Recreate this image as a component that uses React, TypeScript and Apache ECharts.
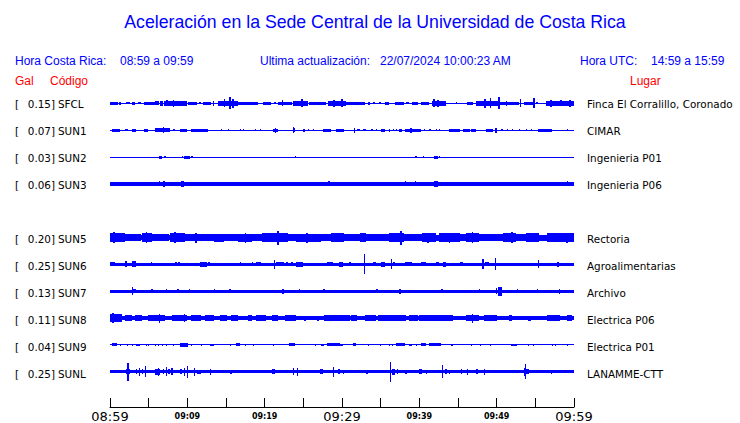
import React, { useEffect, useRef } from "react";
import * as echarts from "echarts";

const TITLE = "Aceleración en la Sede Central de la Universidad de Costa Rica";
const HEAD_CR_LABEL = "Hora Costa Rica:";
const HEAD_CR_VALUE = "08:59 a 09:59";
const HEAD_UPD_LABEL = "Ultima actualización:";
const HEAD_UPD_VALUE = "22/07/2024 10:00:23 AM";
const HEAD_UTC_LABEL = "Hora UTC:";
const HEAD_UTC_VALUE = "14:59 a 15:59";
const COL_GAL = "Gal";
const COL_CODE = "Código";
const COL_PLACE = "Lugar";

const CODES = ["SFCL", "SUN1", "SUN2", "SUN3", "SUN5", "SUN6", "SUN7", "SUN8", "SUN9", "SUNL"];
const PEAKS = ["0.15", "0.07", "0.03", "0.06", "0.20", "0.25", "0.13", "0.11", "0.04", "0.25"];
const PLACES = [
  "Finca El Corralillo, Coronado",
  "CIMAR",
  "Ingenieria P01",
  "Ingenieria P06",
  "Rectoria",
  "Agroalimentarias",
  "Archivo",
  "Electrica P06",
  "Electrica P01",
  "LANAMME-CTT",
];
// row slot of each station (slot 4 = SUN4, no data)
const ROWS = [0, 1, 2, 3, 5, 6, 7, 8, 9, 10];
// baseline half-amplitude of each trace
const BASE = [0.6, 0.6, 0.5, 1.7, 2.3, 1.3, 1.3, 1.8, 0.6, 1.7];

// bursts: [start minute, end minute, half amplitude]
const SFCL = [
  [0, 1.0, 1.5], [1.2, 1.4, 1.5], [2.1, 2.6, 1], [2.8, 3.2, 1.5], [3.6, 4.0, 1], [4.4, 5.8, 1.5], [5.8, 6.4, 2],
  [6.5, 6.8, 2.5], [7.0, 10.0, 2.2], [7.3, 7.5, 3], [8.1, 8.3, 3.5], [9.2, 9.4, 2.5], [10.1, 11.2, 1.5],
  [11.5, 11.8, 1], [12.0, 13.0, 1.5], [13.3, 13.5, 2.5], [14.0, 16.5, 2.5], [14.7, 14.9, 4], [15.4, 15.6, 6],
  [15.8, 16.0, 4.5], [16.5, 19.2, 1.5], [19.8, 20.8, 1.5], [21.2, 21.5, 1], [21.7, 23.5, 1.8], [22.2, 22.4, 3],
  [23.6, 25.6, 2.3], [24.7, 24.9, 4], [25.7, 27.9, 1.5], [28.2, 30.5, 2.5], [28.9, 29.1, 3.5], [29.9, 30.1, 4],
  [30.5, 33.0, 1.8], [33.3, 33.6, 1.5], [34.0, 34.3, 1], [34.8, 35.1, 1], [35.6, 36.1, 1.5], [36.9, 38.0, 1.5],
  [38.3, 38.6, 1], [39.0, 39.8, 1.5], [40.2, 41.3, 1.5], [41.7, 43.4, 2.3], [41.8, 42.0, 4], [42.3, 42.5, 3.5],
  [44.7, 44.8, 1], [46.2, 46.9, 1.5], [47.3, 50.4, 2.8], [48.4, 48.6, 4.5], [49.1, 49.3, 5], [50.2, 50.4, 6],
  [50.4, 52.9, 1.6], [51.2, 51.4, 2.2], [53.0, 53.2, 4], [53.5, 54.8, 1.8], [54.7, 54.9, 5], [55.1, 55.4, 1],
  [56.4, 60, 2.3], [56.9, 57.1, 3.5], [58.2, 58.4, 3], [59.4, 59.6, 3.5],
];
const SUN1 = [
  [0.2, 1.3, 1.5], [2.0, 2.3, 1], [2.8, 3.4, 1.5], [4.4, 4.9, 1.5], [5.8, 7.7, 1.8], [6.8, 7.0, 3], [8.2, 8.4, 1],
  [9.0, 9.9, 1.5], [10.5, 12.7, 1.5], [14.3, 14.4, 1], [15.3, 15.4, 1], [16.8, 16.9, 1], [17.2, 17.3, 1],
  [18.7, 18.8, 1], [19.4, 19.5, 1], [21.1, 21.7, 1.5], [21.3, 21.5, 2.5], [23.6, 23.9, 2], [23.7, 23.8, 3],
  [24.9, 25.2, 1.5], [25.6, 25.7, 1], [26.2, 26.3, 1], [27.5, 28.6, 1.5], [29.2, 30.3, 1.5], [31.5, 31.7, 2.5],
  [32.0, 32.3, 1], [32.7, 33.1, 1.2], [33.8, 34.0, 1], [34.4, 34.5, 1], [35.1, 35.5, 1.5], [36.1, 36.2, 1.5],
  [36.6, 36.7, 1], [37.0, 37.1, 1], [37.4, 37.8, 1.5], [38.1, 40.2, 1.5], [38.8, 39.0, 2.5], [40.6, 40.7, 1],
  [41.3, 41.5, 1], [42.2, 42.3, 1], [42.6, 42.7, 1], [43.9, 45.2, 1.5], [45.6, 46.5, 1.5], [46.7, 47.3, 1.5],
  [48.6, 49.5, 1.5], [49.8, 50.0, 2.5], [50.5, 50.8, 1], [51.4, 51.5, 1], [52.0, 52.1, 1], [52.9, 53.0, 1],
  [53.8, 53.9, 1], [54.4, 54.5, 1], [55.3, 57.2, 1.5], [59.1, 59.2, 1],
];
const SUN2 = [
  [6.3, 6.7, 1.5], [7.0, 7.2, 1], [9.3, 9.5, 1], [9.6, 10.3, 1.5], [10.5, 10.7, 1], [23.9, 24.1, 1],
  [39.5, 39.7, 1.3], [40.5, 40.6, 1], [41.9, 42.4, 1.5], [42.6, 42.7, 1],
];
const SUN3 = [
  [6.4, 6.5, 2.5], [6.9, 7.1, 3], [9.2, 9.6, 3], [9.8, 9.9, 2.3], [28.2, 28.4, 2.5], [28.7, 28.8, 2.2],
  [38.1, 38.2, 2.5], [39.4, 39.5, 2.5], [40.5, 40.6, 2.2], [41.9, 42.4, 3], [59.1, 59.2, 2.5],
];
const SUN5 = [
  [0, 2.0, 4.3], [0.4, 0.6, 5.5], [2.0, 4.0, 3.2], [4.1, 5.4, 4.3], [4.6, 4.7, 5.5], [5.4, 7.6, 3.3],
  [7.7, 9.7, 4.3], [8.3, 8.5, 5.5], [9.7, 12.3, 3.8], [11.0, 11.2, 5], [12.3, 13.4, 3.2], [13.5, 14.8, 4],
  [14.8, 16.6, 3.3], [16.6, 18.3, 4], [17.4, 17.6, 5], [18.3, 19.6, 3.3], [19.6, 23.0, 4.2], [21.6, 21.8, 7],
  [23.0, 24.0, 3.3], [24.0, 27.3, 4], [25.4, 25.6, 5], [27.3, 28.6, 3.2], [28.6, 30.3, 4.2], [30.3, 32.3, 3.3],
  [32.3, 33.1, 4.3], [33.1, 36.1, 3.3], [36.1, 38.0, 4.5], [37.5, 37.7, 7], [38.0, 40.4, 3.3], [40.4, 42.2, 4.2],
  [41.0, 41.2, 5], [42.2, 42.6, 3], [42.6, 45.2, 4.2], [43.8, 44.0, 5], [45.2, 46.0, 3.2], [46.0, 47.7, 4.3],
  [46.8, 47.0, 5.5], [47.7, 50.8, 3.3], [50.8, 52.5, 4.3], [51.9, 52.1, 5.5], [52.5, 53.8, 3.3], [53.8, 55.5, 4.2],
  [55.5, 56.5, 3], [56.5, 60, 4.2], [59.0, 59.2, 5],
];
const SUN6 = [
  [0, 0.6, 2], [0.9, 1.6, 1.5], [1.8, 2.0, 1.5], [2.0, 2.2, 3], [2.9, 3.3, 3], [5.3, 5.4, 2], [6.2, 7.9, 1.8],
  [8.4, 8.6, 2], [8.8, 9.0, 2], [9.7, 11.0, 1.8], [11.7, 12.6, 2.5], [12.7, 12.9, 2], [14.5, 16.5, 1.7],
  [16.8, 17.0, 2], [17.2, 17.7, 1.8], [18.3, 18.5, 2], [18.9, 19.5, 2], [21.2, 21.4, 4.5], [21.5, 22.5, 2],
  [22.8, 23.0, 2], [23.4, 23.6, 2], [24.0, 25.0, 2.5], [25.2, 25.4, 1.8], [26.0, 27.5, 1.8], [28.0, 28.8, 2],
  [29.6, 30.1, 2.5], [30.9, 31.1, 2], [32.85, 33.0, 10], [34.0, 34.4, 2], [35.1, 35.5, 2.5], [36.35, 36.5, 5],
  [36.6, 36.9, 2], [38.1, 39.0, 2], [39.2, 39.8, 1.8], [40.2, 40.9, 2], [42.2, 42.6, 2], [43.0, 43.4, 2.5],
  [45.2, 45.7, 2], [48.15, 48.3, 5], [48.5, 49.0, 2], [49.75, 49.9, 6], [53.0, 54.8, 1.8], [55.35, 55.5, 4],
  [57.8, 58.0, 2.5],
];
const SUN7 = [
  [2.8, 3.0, 4], [3.0, 3.4, 2], [5.3, 5.5, 1.8], [7.2, 7.4, 2], [8.7, 8.9, 2], [10.2, 10.4, 1.8], [13.4, 13.6, 2],
  [15.4, 15.6, 1.8], [22.3, 22.5, 2.5], [24.4, 24.6, 2], [27.6, 27.8, 1.8], [34.4, 34.6, 2], [37.4, 37.6, 2.5],
  [39.6, 39.8, 1.7], [42.8, 43.0, 2], [47.7, 47.9, 2], [49.9, 50.1, 3], [50.2, 50.7, 4.5], [52.6, 52.8, 2],
  [55.2, 55.4, 1.8], [58.0, 58.2, 2.5],
];
const SUN8 = [
  [0, 1.5, 4], [0.3, 0.5, 4.7], [1.9, 2.8, 2.8], [3.2, 4.1, 2.8], [4.9, 6.2, 2.8], [6.2, 7.1, 3], [6.4, 6.5, 4.5],
  [8.0, 9.9, 3], [9.6, 9.7, 3.7], [10.5, 11.8, 2.7], [12.3, 13.5, 2.7], [14.2, 15.1, 2.7], [15.7, 16.6, 2.7],
  [17.8, 18.3, 2.7], [18.9, 20.2, 2.8], [20.9, 21.7, 2.7], [22.6, 24.1, 3.2], [25.1, 25.3, 2.5], [26.8, 27.0, 2.5],
  [27.7, 31.0, 2.8], [31.2, 32.0, 2.8], [33.0, 34.4, 2.7], [34.6, 38.3, 3], [38.7, 39.8, 2.7], [40.0, 44.4, 2.8],
  [46.0, 47.7, 3.2], [46.8, 47.0, 4.5], [48.4, 50.1, 2.8], [51.6, 52.0, 2.7], [54.0, 54.4, 2.5], [56.5, 58.2, 2.8],
  [59.1, 59.8, 2.7],
];
const SUN9 = [
  [0.2, 0.9, 1.5], [1.3, 1.4, 1.2], [2.2, 2.3, 1], [2.8, 3.0, 1.2], [3.4, 3.9, 1.3], [4.7, 4.8, 1], [4.9, 5.0, 1],
  [5.8, 5.9, 1], [6.2, 6.3, 1], [6.7, 6.9, 1.2], [7.3, 7.4, 1], [8.2, 8.3, 1], [9.0, 10.1, 1.7], [10.5, 10.6, 1],
  [11.8, 11.9, 1], [12.9, 13.5, 1.3], [15.5, 15.6, 1], [16.3, 16.8, 1.5], [17.4, 17.5, 1], [18.5, 18.6, 1],
  [21.1, 21.2, 1], [23.2, 23.9, 1.5], [26.5, 26.6, 1], [27.3, 27.7, 1.2], [28.0, 29.7, 1.5], [29.7, 30.1, 1.2],
  [31.4, 31.8, 1.5], [33.3, 33.4, 1], [34.9, 35.1, 1], [36.1, 36.2, 1], [36.5, 36.6, 1], [37.0, 38.1, 1.5],
  [38.7, 39.1, 1.2], [39.6, 39.7, 1.2], [40.2, 40.9, 1.5], [41.3, 42.8, 1.5], [44.1, 44.3, 1.3], [46.7, 46.8, 1],
  [47.8, 47.9, 1], [49.2, 49.3, 1], [51.8, 52.6, 1.3], [54.1, 54.2, 1], [54.7, 54.8, 1], [57.2, 57.3, 1],
  [57.6, 57.7, 1.2], [59.1, 59.2, 1],
];
const SUNL = [
  [2.1, 2.6, 2.3], [2.25, 2.4, 9], [3.3, 3.4, 2.5], [3.7, 3.8, 4], [4.1, 4.2, 2.5], [4.5, 4.6, 5.5], [5.8, 6.5, 3],
  [6.2, 6.3, 4], [6.8, 7.0, 2.5], [7.2, 7.3, 4.5], [7.5, 7.7, 2.5], [7.9, 8.1, 3.5], [9.1, 9.3, 2.5], [9.6, 9.7, 4],
  [9.9, 10.0, 6], [10.8, 10.9, 4], [11.3, 11.8, 2.2], [12.9, 13.0, 3], [15.5, 15.8, 2.2], [21.0, 21.4, 2.5],
  [23.6, 23.7, 3.5], [24.2, 24.3, 4], [27.2, 27.6, 2.5], [28.85, 29.0, 5], [29.5, 29.8, 2.5], [30.1, 30.2, 2.2],
  [33.1, 33.3, 2.2], [36.25, 36.4, 10], [36.5, 36.9, 3], [37.1, 37.3, 2.5], [38.2, 38.4, 2.2], [40.0, 40.4, 2.5],
  [40.8, 41.0, 2.2], [42.95, 43.1, 6.5], [43.3, 43.6, 2.5], [43.9, 44.0, 2.2], [45.4, 45.5, 2.5], [46.1, 46.3, 3],
  [47.3, 47.6, 2.5], [48.3, 48.5, 3], [53.5, 53.6, 4], [53.6, 53.75, 7.3], [53.8, 54.2, 2.5], [57.0, 57.1, 2.2],
];
const BURSTS = [SFCL, SUN1, SUN2, SUN3, SUN5, SUN6, SUN7, SUN8, SUN9, SUNL];

const TICK_MINUTES = [0, 10, 20, 30, 40, 50, 60];
const TICK_LABELS = ["08:59", "09:09", "09:19", "09:29", "09:39", "09:49", "09:59"];
const TICK_MAJOR = [true, false, false, true, false, false, true];

const BLUE = "#0000ff";
const RED = "#ff0000";
const GRID_TOP = 88;
const ROW_H = 27;
const FIRST_CENTER = 15.5; // axis units (1 unit = 1px)

export default function App() {
  const ref = useRef<HTMLDivElement>(null);
  useEffect(() => {
    if (!ref.current) return;
    const chart = echarts.init(ref.current, null, { renderer: "svg" });

    const makeRender = (center: number) => (_p: any, api: any) => {
      const h = api.value(2);
      const a = api.coord([api.value(0), center - h]);
      const b = api.coord([api.value(1), center + h]);
      const x0 = Math.round(a[0]);
      const x1 = Math.max(x0 + 1, Math.round(b[0]));
      const yt = Math.round(Math.min(a[1], b[1]));
      const yb = Math.round(Math.max(a[1], b[1]));
      return {
        type: "rect",
        shape: { x: x0, y: yt, width: x1 - x0, height: Math.max(1, yb - yt) },
        style: { fill: BLUE },
      };
    };

    const series = CODES.map((code, i) => ({
      type: "custom",
      name: code,
      silent: true,
      clip: true,
      renderItem: makeRender(FIRST_CENTER + ROW_H * ROWS[i]),
      data: [[0, 60, BASE[i]], ...BURSTS[i]],
    }));

    const txt = (text: string, x: number, y: number, opts: any = {}) => ({
      type: "text",
      x,
      y,
      silent: true,
      style: {
        text,
        fill: opts.fill || "#000",
        fontSize: opts.fontSize || 12,
        fontFamily: opts.fontFamily || "Liberation Sans",
        align: opts.align || "left",
        verticalAlign: "middle",
      },
    });

    const graphics: any[] = [
      txt(TITLE, 375, 22, { fill: BLUE, fontSize: 17.7, align: "center" }),
      txt(HEAD_CR_LABEL, 15, 61, { fill: BLUE }),
      txt(HEAD_CR_VALUE, 120, 61, { fill: BLUE }),
      txt(HEAD_UPD_LABEL, 260, 61, { fill: BLUE }),
      txt(HEAD_UPD_VALUE, 380, 61, { fill: BLUE }),
      txt(HEAD_UTC_LABEL, 580, 61, { fill: BLUE }),
      txt(HEAD_UTC_VALUE, 651, 61, { fill: BLUE }),
      txt(COL_GAL, 15, 81, { fill: RED }),
      txt(COL_CODE, 50, 81, { fill: RED }),
      txt(COL_PLACE, 630, 81, { fill: RED }),
    ];
    CODES.forEach((code, i) => {
      const y = GRID_TOP + FIRST_CENTER + ROW_H * ROWS[i];
      const f = { fontSize: 10.4, fontFamily: "DejaVu Sans" };
      graphics.push(txt("[", 15, y, f));
      graphics.push(txt(PEAKS[i] + "]", 55, y, { ...f, align: "right" }));
      graphics.push(txt(code, 58, y, f));
      graphics.push(txt(PLACES[i], 587, y, f));
    });

    chart.setOption({
      animation: false,
      backgroundColor: "#ffffff",
      grid: { left: 110, right: 166, top: GRID_TOP, bottom: 14 },
      xAxis: {
        type: "value",
        min: 0,
        max: 60,
        interval: 5,
        position: "bottom",
        axisLine: { show: true, onZero: false, lineStyle: { color: "#000", width: 1 } },
        axisTick: { show: true, inside: true, length: 9, lineStyle: { color: "#000" } },
        splitLine: { show: false },
        axisLabel: {
          show: true,
          margin: 2,
          showMinLabel: true,
          showMaxLabel: true,
          formatter: (v: number) => {
            const k = TICK_MINUTES.indexOf(Math.round(v));
            if (k < 0) return "";
            return `{${TICK_MAJOR[k] ? "b" : "s"}|${TICK_LABELS[k]}}`;
          },
          rich: {
            b: { fontSize: 13, fontFamily: "DejaVu Sans", color: "#000", lineHeight: 15 },
            s: { fontSize: 8, fontWeight: "bold", fontFamily: "DejaVu Sans", color: "#000", lineHeight: 15 },
          },
        },
      },
      yAxis: { type: "value", min: 0, max: 321, inverse: true, show: false },
      graphic: graphics,
      series,
    });
    return () => chart.dispose();
  }, []);
  return (
    <div
      ref={ref}
      style={{ position: "fixed", left: 0, top: 0, width: 740, height: 423, background: "#fff" }}
    />
  );
}
